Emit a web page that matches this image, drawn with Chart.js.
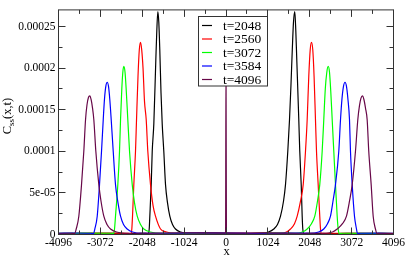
<!DOCTYPE html>
<html>
<head>
<meta charset="utf-8">
<script src="https://cdn.jsdelivr.net/npm/chart.js@4/dist/chart.umd.min.js"></script>
<style>
html,body{margin:0;padding:0;background:#fff;}
canvas{display:block;}
</style>
</head>
<body>
<canvas id="c" width="407" height="256" style="width:407px;height:256px"></canvas>
<script>
// ---- tick values / labels ----
const xTickValues = [-4096,-3072,-2048,-1024,0,1024,2048,3072,4096];
const xTickLabels = ['-4096','-3072','-2048','-1024','0','1024','2048','3072','4096'];
const xMinorTicks = [-3584,-2560,-1536,-512,512,1536,2560,3584];
const yTickValues = [0,0.00005,0.0001,0.00015,0.0002,0.00025];
const yTickLabels = ['0','5e-05','0.0001','0.00015','0.0002','0.00025'];
const yMinorTicks = [0.000025,0.000075,0.000125,0.000175,0.000225];

// ---- series ----
const seriesLabels = ['t=2048','t=2560','t=3072','t=3584','t=4096'];

const t2048X = [-4096,-3000,-2200,
  -1968,-1907,-1878,-1863,-1829,-1804,-1765,-1716,-1692,-1667,-1643,-1619,-1589,-1560,-1521,-1479,-1430,-1374,-1308,-1235,-1112,-917,
  -600,-300,300,600,
  892,1039,1169,1259,1333,1406,1455,1511,1553,1589,1621,1650,1682,1707,1731,1780,1804,1839,1863,1878,1907,1968,
  2600,3300,4096];
const t2048Y = [1e-6,1.5e-6,1e-6,
  1.5e-6,1e-6,6.6e-6,2.2e-5,6e-5,1e-4,1.33e-4,2.1e-4,2.45e-4,2.68e-4,2.55e-4,2.22e-4,1.7e-4,1.33e-4,1e-4,6e-5,3.8e-5,2.2e-5,1.2e-5,6.6e-6,3e-6,1.5e-6,
  1.2e-6,1.8e-6,1.5e-6,1.2e-6,
  1.5e-6,3e-6,6.6e-6,1.2e-5,2.2e-5,4e-5,6e-5,1e-4,1.38e-4,1.8e-4,2.22e-4,2.55e-4,2.68e-4,2.45e-4,2.1e-4,1.38e-4,1e-4,6e-5,2.2e-5,6.6e-6,1e-6,1.5e-6,
  1e-6,1.5e-6,1e-6];

const t2560X = [-4096,-3200,
  -2384,-2323,-2303,-2286,-2254,-2213,-2188,-2152,-2120,-2090,-2061,-2029,-1993,-1951,-1912,-1846,-1785,-1724,-1601,-1455,-1235,
  -800,-400,400,800,
  1333,1479,1577,1675,1741,1822,1888,1944,1985,2024,2059,2090,2122,2154,2188,2213,2254,2293,2311,2335,2408,
  3200,4096];
const t2560Y = [1.2e-6,1.6e-6,
  1.5e-6,1e-6,6.6e-6,2.2e-5,6e-5,1e-4,1.38e-4,1.9e-4,2.22e-4,2.31e-4,2.22e-4,2.0e-4,1.6e-4,1.38e-4,1e-4,6e-5,3.5e-5,2.2e-5,6.6e-6,3e-6,1.5e-6,
  1.4e-6,1.8e-6,1.3e-6,1.7e-6,
  1.5e-6,3e-6,6.6e-6,1.3e-5,2.2e-5,4e-5,6e-5,1e-4,1.38e-4,1.9e-4,2.22e-4,2.31e-4,2.22e-4,1.9e-4,1.38e-4,1e-4,6e-5,2.2e-5,6.6e-6,1e-6,1.5e-6,
  1.5e-6,1.1e-6];

const t3072X = [-4096,-3500,
  -2824,-2751,-2726,-2702,-2645,-2604,-2579,-2548,-2523,-2499,-2469,-2438,-2401,-2359,-2293,-2237,-2171,-2090,-2010,-1846,-1601,
  -1100,-500,500,1100,
  1699,1870,1985,2090,2171,2237,2293,2352,2391,2428,2465,2499,2531,2562,2597,2636,2677,2719,2743,2768,2848,
  3500,4096];
const t3072Y = [1.3e-6,1.7e-6,
  1.5e-6,1e-6,6.6e-6,2.2e-5,6e-5,1e-4,1.38e-4,1.75e-4,1.95e-4,2.02e-4,1.95e-4,1.72e-4,1.38e-4,1e-4,6e-5,3.8e-5,2.2e-5,1.2e-5,6.6e-6,3e-6,1.5e-6,
  1.4e-6,1.8e-6,1.2e-6,1.6e-6,
  1.5e-6,3e-6,6.6e-6,1.3e-5,2.2e-5,4e-5,6e-5,1e-4,1.38e-4,1.75e-4,1.95e-4,2.02e-4,1.95e-4,1.72e-4,1.38e-4,1e-4,6e-5,2.2e-5,6.6e-6,1e-6,1.5e-6,
  1.4e-6,1.2e-6];

const t3584X = [-4096,-3700,
  -3313,-3240,-3208,-3149,-3093,-3044,-3002,-2971,-2939,-2905,-2873,-2841,-2807,-2758,-2702,-2641,-2579,-2506,-2416,-2286,-2042,
  -1500,-700,700,1500,
  2066,2262,2391,2482,2555,2616,2677,2758,2800,2836,2873,2910,2946,2983,3020,3044,3086,3142,3191,3215,3289,
  3700,4096];
const t3584Y = [1.4e-6,1.8e-6,
  1.5e-6,1e-6,6.6e-6,2.2e-5,6e-5,1e-4,1.38e-4,1.63e-4,1.78e-4,1.83e-4,1.78e-4,1.62e-4,1.38e-4,1e-4,6e-5,3.8e-5,2.2e-5,1.2e-5,6.6e-6,3e-6,1.5e-6,
  1.5e-6,1.9e-6,1.3e-6,1.7e-6,
  1.5e-6,3e-6,6.6e-6,1.3e-5,2.2e-5,4e-5,6e-5,1e-4,1.38e-4,1.63e-4,1.78e-4,1.83e-4,1.78e-4,1.62e-4,1.38e-4,1e-4,6e-5,2.2e-5,6.6e-6,1e-6,1.5e-6,
  1.6e-6,1.3e-6];

const t4096X = [-4096,
  -3802,-3704,-3663,-3599,-3533,-3477,-3435,-3399,-3362,-3330,-3298,-3264,-3232,-3183,-3110,-3056,-2988,-2910,-2824,-2677,-2384,
  -1800,-900,-60,-10,0,10,60,900,1800,
  2359,2604,2719,2848,2946,3020,3086,3166,3223,3264,3301,3337,3374,3411,3452,3491,3550,3599,3655,3692,3778,
  4096];
const t4096Y = [1.5e-6,
  1.5e-6,1e-6,6.6e-6,2.2e-5,6e-5,1e-4,1.38e-4,1.56e-4,1.65e-4,1.666e-4,1.62e-4,1.52e-4,1.38e-4,1e-4,6e-5,4e-5,2.2e-5,1.2e-5,6.6e-6,3e-6,1.5e-6,
  1.6e-6,2e-6,1.7e-6,2e-6,2.1e-4,2e-6,1.6e-6,1.9e-6,1.5e-6,
  1.5e-6,3e-6,6.6e-6,1.3e-5,2.2e-5,4e-5,6e-5,1e-4,1.38e-4,1.55e-4,1.64e-4,1.666e-4,1.62e-4,1.52e-4,1.38e-4,1e-4,6e-5,2.2e-5,6.6e-6,1e-6,1.5e-6,
  1.4e-6];

const seriesX = [t2048X,t2560X,t3072X,t3584X,t4096X];
const seriesY = [t2048Y,t2560Y,t3072Y,t3584Y,t4096Y];
const seriesColors = ['#000000','#ff0000','#00ff00','#0000ff','rgb(103,7,72)'];

const FONT = '"Liberation Serif", "Times New Roman", serif';
const frameColor = '#333';

const datasets = seriesLabels.map((lab,i)=>({
  label: lab,
  data: seriesX[i].map((x,j)=>({x:x, y:seriesY[i][j]})),
  borderColor: seriesColors[i],
  backgroundColor: seriesColors[i],
  borderWidth: 1.2,
  pointRadius: 0,
  fill: false,
  cubicInterpolationMode: 'monotone',
  order: seriesLabels.length - 1 - i
}));

const decor = {
  id:'decor',
  afterDraw(chart){
    const ctx = chart.ctx;
    const {left,right,top,bottom} = chart.chartArea;
    const xs = chart.scales.x, ys = chart.scales.y;
    const crisp = p => Math.floor(p) + 0.5;
    ctx.save();
    ctx.strokeStyle = frameColor;
    ctx.lineWidth = 1;
    ctx.strokeRect(left, top, right-left, bottom-top);
    ctx.beginPath();
    const xt = (v,len)=>{const p=crisp(xs.getPixelForValue(v)); ctx.moveTo(p,bottom); ctx.lineTo(p,bottom-len); ctx.moveTo(p,top); ctx.lineTo(p,top+len);};
    const yt = (v,len)=>{const p=crisp(ys.getPixelForValue(v)); ctx.moveTo(left,p); ctx.lineTo(left+len,p); ctx.moveTo(right,p); ctx.lineTo(right-len,p);};
    xTickValues.forEach(v=>xt(v,7));
    xMinorTicks.forEach(v=>xt(v,4));
    yTickValues.forEach(v=>yt(v,7));
    yMinorTicks.forEach(v=>yt(v,4));
    ctx.stroke();

    // legend box
    const lx=198.5, ly=16.5, lw=69, lh=69.5;
    ctx.fillStyle='#fff';
    ctx.fillRect(lx,ly,lw,lh);
    ctx.strokeStyle=frameColor;
    ctx.strokeRect(lx,ly,lw,lh);
    const rows=[25.5,39,52.5,66,79.5];
    ctx.font='13.5px '+FONT;
    ctx.textBaseline='middle';
    ctx.textAlign='left';
    seriesLabels.forEach((lab,i)=>{
      ctx.strokeStyle=seriesColors[i];
      ctx.lineWidth=1.2;
      ctx.beginPath();
      ctx.moveTo(202,rows[i]); ctx.lineTo(212,rows[i]);
      ctx.stroke();
      ctx.fillStyle='#000';
      ctx.fillText(lab,223,rows[i]+0.5);
    });

    // x title
    ctx.fillStyle='#000';
    ctx.font='12.5px '+FONT;
    ctx.textAlign='center';
    ctx.textBaseline='alphabetic';
    ctx.fillText('x', xs.getPixelForValue(0)+0.5, 254.5);

    // y title  C_ss(x,t)
    ctx.save();
    ctx.translate(11,116);
    ctx.rotate(-Math.PI/2);
    ctx.textAlign='left';
    const big='12.5px '+FONT, small='9px '+FONT;
    ctx.font=big; const wC=ctx.measureText('C').width; const w2=ctx.measureText('(x,t)').width;
    ctx.font=small; const wS=ctx.measureText('ss').width;
    const start=-(wC+wS+w2)/2;
    ctx.font=big; ctx.fillText('C',start,0);
    ctx.font=small; ctx.fillText('ss',start+wC,3);
    ctx.font=big; ctx.fillText('(x,t)',start+wC+wS,0);
    ctx.restore();
    ctx.restore();
  }
};

new Chart(document.getElementById('c'), {
  type:'line',
  data:{datasets:datasets},
  plugins:[decor],
  options:{
    responsive:false,
    animation:false,
    devicePixelRatio:1,
    layout:{padding:{top:1.5,right:13.5,left:0,bottom:0}},
    plugins:{legend:{display:false}, tooltip:{enabled:false}},
    scales:{
      x:{
        type:'linear', min:-4096, max:4096,
        afterBuildTicks:s=>{s.ticks = xTickValues.map(v=>({value:v}));},
        afterFit:s=>{s.height=21.5;},
        grid:{display:false, drawTicks:false, tickLength:0},
        border:{display:false},
        ticks:{padding:2, color:'#000', autoSkip:false, maxRotation:0,
          font:{family:FONT, size:11.5},
          callback:(v)=>xTickLabels[xTickValues.indexOf(v)]}
      },
      y:{
        type:'linear', min:0, max:0.00027,
        afterBuildTicks:s=>{s.ticks = yTickValues.map(v=>({value:v}));},
        afterFit:s=>{s.width=58.5;},
        grid:{display:false, drawTicks:false, tickLength:0},
        border:{display:false},
        ticks:{padding:3, color:'#000', autoSkip:false,
          font:{family:FONT, size:11.5},
          callback:(v)=>yTickLabels[yTickValues.indexOf(v)]}
      }
    }
  }
});
</script>
</body>
</html>
